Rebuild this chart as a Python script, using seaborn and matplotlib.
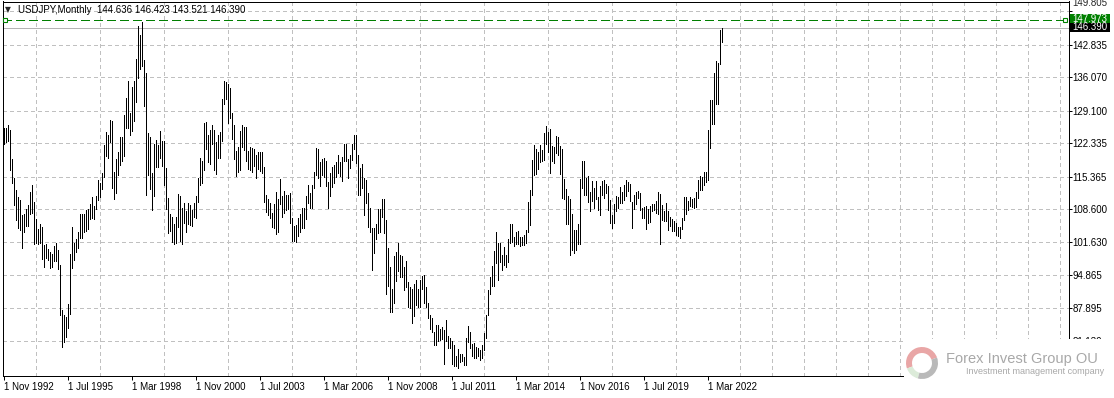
import numpy as np
import pandas as pd
import matplotlib
matplotlib.use("Agg")
import matplotlib.pyplot as plt
import matplotlib.transforms as mtransforms
from matplotlib.patches import Rectangle, Wedge
import seaborn as sns

W, H = 1114, 398

# ---------------- data ----------------
symbol_title = "USDJPY,Monthly"
last_bar = ["144.636", "146.423", "143.521", "146.390"]
first_month = "1992-11-01"

highs = [
    125.5, 125.4,
    126.0, 125.0, 119.0, 115.0, 112.5, 111.0, 110.5, 107.3, 107.6, 108.5, 109.4, 112.2,
    113.6, 110.0, 106.5, 104.4, 105.5, 104.9, 101.0, 101.2, 100.3, 99.7, 99.2, 100.8,
    101.5, 100.0, 97.0, 87.5, 86.5, 86.0, 88.7, 99.3, 104.8, 101.6, 102.3, 103.7,
    107.6, 107.5, 107.5, 108.4, 108.6, 109.7, 111.0, 109.3, 111.4, 114.6, 114.0, 116.2,
    122.0, 124.6, 124.0, 127.2, 127.0, 116.4, 119.0, 120.4, 123.7, 123.7, 128.2, 131.7,
    135.3, 128.6, 134.0, 135.2, 139.9, 146.8, 144.8, 147.6, 139.7, 136.9, 124.4, 123.6,
    116.0, 122.2, 123.0, 122.0, 124.8, 122.7, 122.8, 117.2, 110.8, 107.6, 107.0, 105.4,
    107.0, 111.8, 111.2, 108.9, 109.9, 108.1, 109.9, 109.4, 108.4, 109.8, 111.4, 115.0,
    119.3, 118.5, 126.6, 126.8, 124.0, 125.0, 126.1, 125.0, 122.5, 124.0, 124.6, 131.6,
    135.2, 135.0, 134.6, 133.9, 128.7, 126.0, 120.7, 121.5, 124.8, 126.0, 125.6, 125.6,
    120.7, 121.5, 121.4, 121.0, 119.8, 120.5, 120.5, 120.5, 117.3, 111.6, 110.6, 109.8,
    107.8, 109.7, 112.2, 110.6, 114.9, 111.3, 112.3, 111.6, 111.6, 112.0, 106.8, 105.0,
    105.2, 106.8, 107.6, 108.8, 108.7, 111.2, 113.7, 112.0, 113.6, 116.4, 121.4, 121.0,
    118.3, 119.1, 119.2, 118.7, 114.2, 116.1, 117.3, 117.7, 118.3, 119.9, 118.3, 119.4,
    122.2, 122.2, 119.0, 119.9, 122.2, 124.1, 124.0, 119.9, 117.2, 117.9, 115.0, 114.6,
    111.9, 108.9, 104.6, 104.6, 105.5, 108.6, 108.6, 110.7, 110.6, 106.3, 100.5, 96.6,
    92.0, 98.9, 99.7, 101.5, 99.1, 98.9, 96.6, 97.8, 93.4, 92.3, 92.0, 93.0,
    93.8, 91.9, 93.7, 94.7, 94.9, 92.3, 88.9, 86.4, 85.9, 83.0, 84.4, 84.5,
    83.6, 84.0, 83.3, 85.5, 82.2, 81.6, 81.1, 80.2, 77.9, 79.5, 78.3, 78.3,
    77.8, 81.7, 84.2, 83.0, 80.5, 80.6, 79.9, 79.6, 79.2, 80.3, 82.8, 86.6,
    91.8, 94.4, 96.7, 99.9, 103.7, 101.5, 101.5, 99.1, 100.6, 99.0, 102.4, 105.4,
    105.4, 102.8, 103.8, 104.1, 102.8, 102.8, 103.1, 104.3, 110.1, 112.5, 118.9, 121.9,
    121.0, 120.5, 122.0, 120.8, 124.5, 125.9, 124.6, 125.3, 121.7, 121.5, 123.8, 123.7,
    121.7, 121.0, 114.9, 112.7, 111.4, 110.6, 107.5, 104.3, 104.3, 105.5, 114.8, 118.7,
    118.6, 115.0, 115.5, 112.2, 114.4, 113.0, 114.5, 111.0, 113.3, 114.4, 114.7, 113.8,
    113.4, 110.5, 107.3, 109.6, 111.4, 111.0, 113.2, 112.1, 113.7, 114.6, 114.2, 113.8,
    110.0, 111.5, 112.1, 112.4, 112.0, 108.8, 109.0, 109.3, 108.5, 109.3, 109.7, 109.7,
    110.3, 112.2, 111.7, 109.4, 108.1, 109.9, 108.2, 107.0, 106.6, 106.1, 105.7, 104.8,
    104.9, 106.7, 111.0, 111.0, 110.2, 111.1, 110.7, 110.8, 112.1, 114.7, 115.5, 115.2,
    116.4, 116.3, 125.1, 131.3, 131.3, 137.0, 139.4, 139.1, 145.9, 146.4,
]

lows = [
    122.2, 122.6,
    122.7, 116.7, 114.1, 109.5, 106.3, 104.7, 104.3, 100.4, 103.7, 105.0, 105.1, 107.5,
    107.8, 101.2, 101.6, 101.3, 101.5, 98.1, 96.6, 98.3, 97.9, 96.2, 96.5, 97.8,
    97.8, 96.0, 86.4, 79.8, 80.8, 82.0, 83.8, 86.8, 96.3, 98.0, 99.6, 100.4,
    102.5, 102.6, 103.7, 104.1, 104.4, 106.6, 106.8, 106.6, 108.6, 110.5, 111.0, 112.7,
    115.2, 119.6, 119.3, 122.5, 113.0, 110.6, 111.9, 115.7, 117.7, 118.5, 119.6, 125.5,
    125.4, 124.1, 124.8, 127.0, 131.0, 136.0, 137.8, 138.4, 130.1, 111.6, 115.6, 112.7,
    108.3, 111.4, 117.4, 117.3, 119.3, 117.6, 113.6, 108.6, 103.6, 104.0, 101.8, 101.4,
    101.5, 104.8, 102.0, 101.4, 105.6, 103.8, 105.4, 105.3, 105.0, 106.9, 106.8, 110.1,
    113.7, 114.1, 116.8, 121.0, 118.3, 118.0, 122.2, 116.7, 115.8, 119.2, 119.3, 122.7,
    130.4, 131.5, 126.5, 127.6, 123.1, 119.0, 115.5, 116.4, 116.7, 121.5, 120.8, 118.6,
    117.0, 116.8, 116.3, 117.6, 115.1, 116.9, 116.5, 116.2, 110.0, 107.9, 107.3, 106.7,
    104.9, 104.6, 103.4, 103.8, 109.6, 106.9, 107.8, 108.3, 108.6, 105.6, 102.0, 101.9,
    101.7, 103.0, 103.7, 104.6, 104.7, 106.6, 109.9, 108.8, 108.9, 112.9, 115.6, 115.0,
    113.4, 115.6, 115.3, 113.4, 108.9, 111.4, 113.2, 114.1, 115.3, 116.1, 115.4, 114.4,
    118.5, 118.6, 115.1, 117.2, 118.9, 121.1, 118.2, 111.6, 111.6, 112.9, 107.3, 109.8,
    104.9, 103.7, 95.8, 99.4, 102.4, 103.5, 103.8, 107.0, 103.5, 90.9, 92.5, 87.1,
    87.1, 88.9, 93.5, 95.7, 94.4, 94.4, 91.8, 92.4, 88.2, 88.0, 84.8, 86.3,
    88.5, 88.1, 88.2, 92.0, 88.9, 88.1, 85.9, 83.6, 82.9, 80.2, 80.2, 81.1,
    81.3, 81.4, 76.3, 81.0, 79.6, 79.6, 76.3, 75.9, 75.9, 75.5, 76.6, 76.9,
    76.0, 76.1, 80.9, 79.6, 78.0, 77.6, 77.6, 77.9, 77.1, 77.6, 79.1, 81.7,
    86.5, 90.8, 92.6, 92.6, 97.3, 93.8, 97.6, 95.8, 96.9, 96.6, 97.6, 101.6,
    101.8, 100.8, 101.2, 101.3, 100.8, 101.1, 101.1, 101.5, 103.7, 105.2, 111.6, 115.6,
    115.9, 116.9, 118.3, 118.5, 118.9, 122.1, 120.4, 116.2, 118.6, 118.1, 120.2, 119.9,
    115.9, 110.9, 110.7, 105.5, 105.5, 99.0, 100.0, 99.5, 100.1, 101.2, 101.2, 112.9,
    111.6, 111.6, 110.1, 108.1, 110.2, 108.8, 110.6, 108.3, 107.3, 111.6, 110.8, 111.9,
    108.3, 105.6, 104.6, 105.7, 108.1, 108.8, 109.9, 109.8, 110.4, 111.4, 112.3, 110.3,
    104.7, 108.5, 109.7, 110.8, 108.3, 106.8, 106.8, 104.5, 105.7, 105.9, 108.2, 108.4,
    107.7, 107.5, 101.2, 106.4, 106.0, 106.1, 104.2, 105.1, 104.0, 104.0, 103.2, 102.9,
    102.6, 104.4, 106.4, 107.5, 108.3, 109.2, 109.1, 108.7, 109.1, 110.8, 112.5, 112.5,
    113.5, 114.2, 114.7, 121.3, 126.4, 126.4, 130.4, 130.4, 138.8, 143.5,
]

price_ticks = [149.805, 142.835, 136.070, 129.100, 122.335, 115.365,
               108.600, 101.630, 94.865, 87.895, 81.130]
level_line = 147.973
bid_line = 146.390
logo_name = "Forex Invest Group OU"
logo_tagline = "Investment management company"

# ---------------- style ----------------
sns.set_style("white")
plt.rcParams["font.family"] = ["Liberation Sans", "DejaVu Sans"]
plt.rcParams["axes.axisbelow"] = True

months = pd.date_range(first_month, periods=len(highs), freq="MS")
idx = np.arange(len(highs))
bars = pd.DataFrame({
    "idx": np.repeat(idx, 2),
    "price": np.ravel(np.column_stack([lows, highs])),
})

fig = plt.figure(figsize=(W / 100, H / 100), dpi=100)
fig.patch.set_facecolor("white")


def px_rect(x0, y0, x1, y1):
    return [x0 / W, 1 - y1 / H, (x1 - x0) / W, (y1 - y0) / H]


ax_top, ax_bot = 1.5, 375.5
ax = fig.add_axes(px_rect(2.5, ax_top, 1068.5, ax_bot))
ax.set_facecolor("white")

# price bars (high-low lines)
sns.lineplot(data=bars, x="idx", y="price", units="idx", estimator=None,
             color="black", linewidth=0.65, antialiased=False,
             solid_capstyle="butt", ax=ax, legend=False)

# scales: 2 px per month, fixed price per pixel
y_per_px = (price_ticks[0] - price_ticks[9]) / 297.0
grid_top_px = 11.3
ax.set_ylim(price_ticks[0] - (ax_bot - grid_top_px) * y_per_px,
            price_ticks[0] + (grid_top_px - ax_top) * y_per_px)
ax.set_xlim(-0.5, 532.5)
ax.set_xlabel("")
ax.set_ylabel("")

# ticks & grid
label_idx = np.arange(0, len(highs), 32)
x_labels = [f"{d.day} {d.strftime('%b %Y')}" for d in months[label_idx]]
ax.set_xticks(label_idx)
ax.set_xticklabels(x_labels, ha="left")
ax.set_xticks(np.arange(0, 533, 16), minor=True)
ax.yaxis.tick_right()
ax.set_yticks(price_ticks)
ax.set_yticklabels([""] + [f"{v:.3f}" for v in price_ticks[1:]])

ax.tick_params(axis="x", which="major", direction="out", length=2.9, width=0.72,
               pad=1.5, labelsize=7, colors="black", bottom=True)
ax.tick_params(axis="x", which="minor", length=0)
ax.tick_params(axis="y", which="major", direction="out", length=2.2, width=0.72,
               pad=0.8, labelsize=7, colors="black", right=True, left=False)

grid_kw = dict(color="#c0c0c0", lw=0.72, linestyle=(0, (3, 3)), antialiased=False)
ax.grid(False)
ax.grid(True, axis="x", which="minor", **grid_kw)
ax.grid(True, axis="y", which="major", **grid_kw)

for s in ax.spines.values():
    s.set_visible(True)
    s.set_color("black")
    s.set_linewidth(0.7)
    s.set_antialiased(False)

# top price label (shifted up like the terminal does)
top_tr = mtransforms.blended_transform_factory(ax.transAxes, ax.transData) + \
    mtransforms.ScaledTranslation(3.6 / 100, 8.0 / 100, fig.dpi_scale_trans)
ax.text(1.0, price_ticks[0], f"{price_ticks[0]:.3f}", transform=top_tr,
        fontsize=7, va="center", ha="left", clip_on=False)

# horizontal level line and bid line
ax.axhline(bid_line, color="#b4b4b4", lw=0.7, antialiased=False, zorder=1.5)
ax.axhline(level_line, color="#007f00", lw=0.7, dashes=(9, 5),
           antialiased=False, zorder=3)
ax.plot([0.75, 530.75], [level_line, level_line], ls="none", marker="s", ms=3.4,
        mfc="white", mec="#007f00", mew=0.8, zorder=4, clip_on=False)


# right price boxes
def fig_box(x0, y0, x1, y1, color, text):
    fig.add_artist(Rectangle((x0 / W, 1 - y1 / H), (x1 - x0) / W, (y1 - y0) / H,
                             transform=fig.transFigure, facecolor=color,
                             edgecolor="none", zorder=5))
    fig.text((x0 + 2) / W, 1 - ((y0 + y1) / 2) / H, text, color="white",
             fontsize=7, va="center", ha="left", zorder=6)


fig_box(1070, 14, 1110, 23, "#008000", f"{level_line:.3f}")
fig_box(1070, 23, 1110, 32, "#000000", f"{bid_line:.3f}")

# header
fig.text(5 / W, 1 - 10 / H, "\u25bc", fontsize=5.5, va="center", ha="left",
         family=["DejaVu Sans"])
fig.text(18 / W, 1 - 10 / H, symbol_title + "  " + " ".join(last_bar),
         fontsize=7, va="center", ha="left", color="black")

# logo block
fig.add_artist(Rectangle((904 / W, 0), (W - 904) / W, (H - 339) / H,
                         transform=fig.transFigure, facecolor="white",
                         edgecolor="none", zorder=7))
ident = mtransforms.IdentityTransform()
cx, cy, r = 922, H - 363, 16
for t1, t2, col in [(20, 200, "#e9a6a6"), (200, 255, "#dcebd9"), (255, 20, "#b9b9b9")]:
    fig.add_artist(Wedge((cx, cy), r, t1, t2, width=6, facecolor=col,
                         edgecolor="none", transform=ident, zorder=8))
fig.text(946 / W, 1 - 359.5 / H, logo_name, fontsize=10.5, color="#a8a8a8",
         va="center", ha="left", zorder=9)
fig.text(966 / W, 1 - 372 / H, logo_tagline, fontsize=6.5, color="#a8a8a8",
         va="center", ha="left", zorder=9)

fig.savefig("out.png", dpi=100, facecolor="white")
